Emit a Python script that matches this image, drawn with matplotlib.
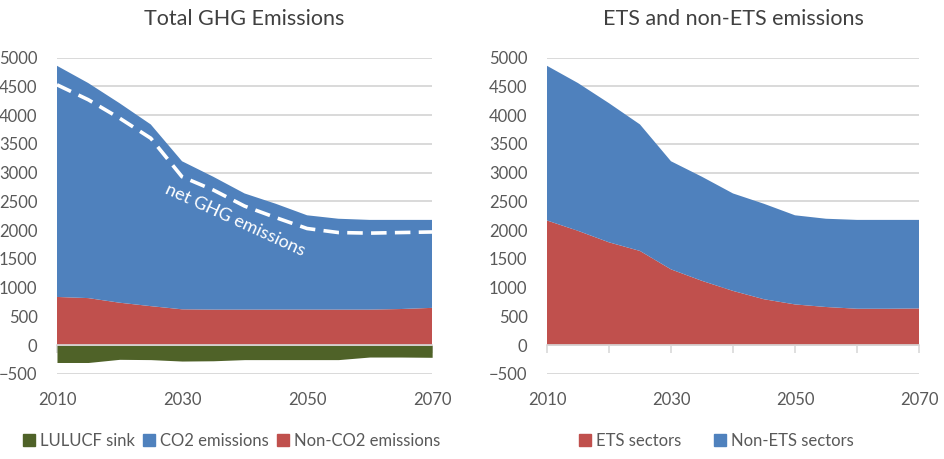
import matplotlib
matplotlib.use('Agg')
import matplotlib.pyplot as plt
from matplotlib.patches import Patch

plt.rcParams['font.family'] = ['Lato', 'DejaVu Sans']

years = [2010, 2015, 2020, 2025, 2030, 2035, 2040, 2045, 2050, 2055, 2060, 2065, 2070]

# left panel: total GHG split (stacked)
lulucf_sink = [-300, -300, -245, -250, -275, -270, -250, -250, -250, -250, -205, -205, -210]
non_co2 = [840, 820, 740, 680, 625, 620, 620, 620, 620, 620, 620, 630, 650]
co2 = [4020, 3740, 3470, 3160, 2575, 2310, 2020, 1840, 1640, 1580, 1560, 1550, 1530]
net_ghg = [4530, 4270, 3950, 3600, 2930, 2700, 2420, 2220, 2030, 1960, 1950, 1960, 1970]

# right panel: ETS vs non-ETS (stacked)
ets = [2170, 1990, 1790, 1640, 1320, 1120, 945, 800, 710, 665, 635, 635, 640]
non_ets = [2690, 2570, 2420, 2200, 1880, 1810, 1695, 1660, 1550, 1535, 1545, 1545, 1540]

xticks_minor = [2010, 2020, 2030, 2040, 2050, 2060, 2070]
xticks_labels = [2010, 2030, 2050, 2070]

BLUE = '#4f81bd'
RED = '#c0504d'
GREEN = '#4f6228'
GRID = '#d9d9d9'
TXT = '#595959'

fig = plt.figure(figsize=(9.45, 4.59), dpi=100)
ax1 = fig.add_axes([0.0603, 0.1852, 0.397, 0.689])
ax2 = fig.add_axes([0.5788, 0.1852, 0.3937, 0.689])


def style_axis(ax, title):
    ax.set_xlim(2010, 2070)
    ax.set_ylim(-500, 5000)
    ax.set_yticks(range(-500, 5001, 500))
    ax.grid(axis='y', color=GRID, linewidth=1.4, zorder=0)
    ax.set_axisbelow(True)
    for s in ['top', 'right', 'left']:
        ax.spines[s].set_visible(False)
    # category axis sits at zero
    ax.spines['bottom'].set_position(('data', 0))
    ax.spines['bottom'].set_color(GRID)
    ax.spines['bottom'].set_linewidth(1.2)
    ax.spines['bottom'].set_zorder(5)
    ax.set_xticks(xticks_minor)
    ax.tick_params(axis='x', direction='out', length=6, width=1.2, color=GRID,
                   labelbottom=False)
    ax.tick_params(axis='y', length=0, pad=14, labelsize=12, labelcolor=TXT)
    sec = ax.secondary_xaxis('bottom')
    sec.set_xticks(xticks_labels)
    sec.tick_params(length=0, pad=13, labelsize=12, labelcolor=TXT)
    sec.spines['bottom'].set_visible(False)
    ax.set_title(title, fontsize=15.5, color='#404040', pad=23.5)


ax1.fill_between(years, 0, lulucf_sink, color=GREEN, linewidth=0, zorder=2)
ax1.stackplot(years, non_co2, co2, colors=[RED, BLUE], linewidth=0, zorder=2)
ax1.plot(years, net_ghg, color='white', linewidth=2.6, dashes=(4.3, 2.3), zorder=4)
ax1.text(2038.5, 2185, 'net GHG emissions', color='white', fontsize=13,
         rotation=-24.6, ha='center', va='center', zorder=6)
style_axis(ax1, 'Total GHG Emissions')

ax2.stackplot(years, ets, non_ets, colors=[RED, BLUE], linewidth=0, zorder=2)
style_axis(ax2, 'ETS and non-ETS emissions')

h1 = [Patch(color=GREEN), Patch(color=BLUE), Patch(color=RED)]
fig.legend(h1, ['LULUCF sink', 'CO2 emissions', 'Non-CO2 emissions'],
           loc='center', bbox_to_anchor=(0.245, 0.039), ncol=3, frameon=False,
           fontsize=12, handlelength=0.7, handleheight=0.7, handletextpad=0.3,
           columnspacing=0.5, labelcolor=TXT)
h2 = [Patch(color=RED), Patch(color=BLUE)]
fig.legend(h2, ['ETS sectors', 'Non-ETS sectors'],
           loc='center', bbox_to_anchor=(0.758, 0.039), ncol=2, frameon=False,
           fontsize=12, handlelength=0.7, handleheight=0.7, handletextpad=0.3,
           columnspacing=2.0, labelcolor=TXT)

fig.savefig('out.png', dpi=100)
